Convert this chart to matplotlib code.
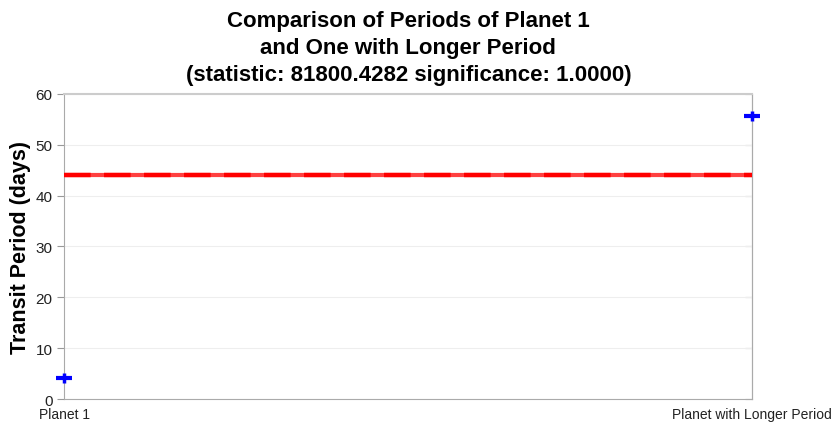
import numpy as np
import matplotlib
matplotlib.use('Agg')
import matplotlib.pyplot as plt

plt.rcParams['font.family'] = ['Liberation Sans', 'DejaVu Sans']

# transit periods (days)
labels = ['Planet 1', 'Planet with Longer Period']
periods = [4.1, 55.7]
threshold = 44.1
statistic = 81800.4282
significance = 1.0

fig = plt.figure(figsize=(8.35, 4.27), dpi=100)
ax = fig.add_axes([0.077, 0.063, 0.824, 0.715])

x = np.arange(len(labels))
ax.axhline(threshold, color='red', lw=3, alpha=0.75, zorder=2)
ax.axhline(threshold, color='red', lw=3.2, ls=(0, (6, 3)), zorder=3)
ax.plot(x, periods, ls='none', marker='_', ms=12, mew=3, color='blue', zorder=4, clip_on=False)
ax.plot(x, periods, ls='none', marker='|', ms=7, mew=2.5, color='blue', zorder=4, clip_on=False)

ax.set_xlim(0, 1)
ax.set_ylim(0, 60)
ax.set_yticks(np.arange(0, 61, 10))
ax.set_xticks(x)
ax.set_xticklabels(labels, fontsize=10, color='#222222')
ax.tick_params(axis='x', length=0, pad=6)
ax.tick_params(axis='y', labelsize=11, labelcolor='#222222', color='#999999', length=5, direction='out')
ax.yaxis.grid(True, color='#eeeeee', lw=0.8)
ax.set_axisbelow(True)

# inward ticks on the right spine
rax = ax.secondary_yaxis('right')
rax.set_yticks(np.arange(0, 61, 10))
rax.tick_params(direction='in', length=5, color='#999999', labelright=False)
rax.spines['right'].set_color('#aaaaaa')

for s in ax.spines.values():
    s.set_color('#aaaaaa')
ax.spines['top'].set_color('#cccccc')
ax.spines['top'].set_linewidth(1.5)

ax.set_ylabel('Transit Period (days)', fontsize=15.5, fontweight='bold', labelpad=3)
ax.set_title('Comparison of Periods of Planet 1\nand One with Longer Period\n'
             '(statistic: %.4f significance: %.4f)' % (statistic, significance),
             fontsize=16, fontweight='bold', linespacing=1.38, pad=10)

fig.savefig('out.png', dpi=100)
